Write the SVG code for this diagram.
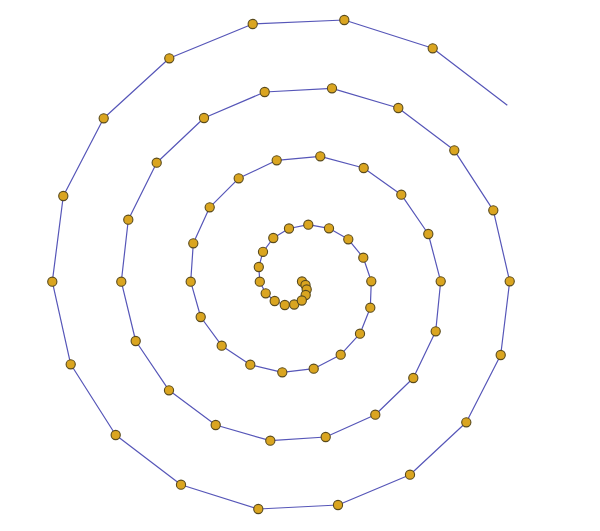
<svg xmlns="http://www.w3.org/2000/svg" width="600" height="531" viewBox="0 0 600 531">
<style>
.edge{fill:none;stroke:#5656b8;stroke-width:1.2;stroke-linejoin:round}
.pt{fill:#daa520;stroke:#594a1c;stroke-width:1.1}
</style>
<rect width="600" height="531" fill="#ffffff"/>
<g id="connectors">
<polyline class="edge" points="507.3,105.3 432.7,48.3 344.3,20 252.7,24 169.3,58.3 103.7,118.3 63.3,196 52.3,281.7 70.7,364.3 115.7,435 181,484.7 258.3,509 338,505 410,474.7 466.3,422.3 500.7,355 509.7,281.3 493.3,210.3 454.3,150.3 398.3,108 332,88.3 264.7,92 204,118 156.7,162.7 128.3,219.7 121.3,281.7 135.7,341 169,390.3 215.7,425 270.3,440.7 325.7,437 375.3,414.7 413.3,378 435.7,331.3 440.7,281.3 428.3,234 401.3,194.7 363.7,168 320.3,156.3 276.7,160.3 238.7,178.3 209.7,207.3 193.3,243.3 190.7,281.7 200.7,317 221.7,345.7 250.3,364.7 282.3,372.3 313.7,368.7 340.7,354.7 360,333.7 370.3,307.7 371.3,281.3 363.3,257.7 348.3,239.3 329,228.3 308.3,224.7 289,228.5 273.3,238 263,251.8 258.8,267 259.8,281.7 265.7,293.3 274.7,301 284.8,305 294.2,304.5 301.8,300.5 305.7,295 306.7,289.5 305.5,285 302,281.5"/>
</g>
<g id="nodes">
<g id="n1"><circle class="pt" cx="432.7" cy="48.3" r="4.6"/></g>
<g id="n2"><circle class="pt" cx="344.3" cy="20" r="4.6"/></g>
<g id="n3"><circle class="pt" cx="252.7" cy="24" r="4.6"/></g>
<g id="n4"><circle class="pt" cx="169.3" cy="58.3" r="4.6"/></g>
<g id="n5"><circle class="pt" cx="103.7" cy="118.3" r="4.6"/></g>
<g id="n6"><circle class="pt" cx="63.3" cy="196" r="4.6"/></g>
<g id="n7"><circle class="pt" cx="52.3" cy="281.7" r="4.6"/></g>
<g id="n8"><circle class="pt" cx="70.7" cy="364.3" r="4.6"/></g>
<g id="n9"><circle class="pt" cx="115.7" cy="435" r="4.6"/></g>
<g id="n10"><circle class="pt" cx="181" cy="484.7" r="4.6"/></g>
<g id="n11"><circle class="pt" cx="258.3" cy="509" r="4.6"/></g>
<g id="n12"><circle class="pt" cx="338" cy="505" r="4.6"/></g>
<g id="n13"><circle class="pt" cx="410" cy="474.7" r="4.6"/></g>
<g id="n14"><circle class="pt" cx="466.3" cy="422.3" r="4.6"/></g>
<g id="n15"><circle class="pt" cx="500.7" cy="355" r="4.6"/></g>
<g id="n16"><circle class="pt" cx="509.7" cy="281.3" r="4.6"/></g>
<g id="n17"><circle class="pt" cx="493.3" cy="210.3" r="4.6"/></g>
<g id="n18"><circle class="pt" cx="454.3" cy="150.3" r="4.6"/></g>
<g id="n19"><circle class="pt" cx="398.3" cy="108" r="4.6"/></g>
<g id="n20"><circle class="pt" cx="332" cy="88.3" r="4.6"/></g>
<g id="n21"><circle class="pt" cx="264.7" cy="92" r="4.6"/></g>
<g id="n22"><circle class="pt" cx="204" cy="118" r="4.6"/></g>
<g id="n23"><circle class="pt" cx="156.7" cy="162.7" r="4.6"/></g>
<g id="n24"><circle class="pt" cx="128.3" cy="219.7" r="4.6"/></g>
<g id="n25"><circle class="pt" cx="121.3" cy="281.7" r="4.6"/></g>
<g id="n26"><circle class="pt" cx="135.7" cy="341" r="4.6"/></g>
<g id="n27"><circle class="pt" cx="169" cy="390.3" r="4.6"/></g>
<g id="n28"><circle class="pt" cx="215.7" cy="425" r="4.6"/></g>
<g id="n29"><circle class="pt" cx="270.3" cy="440.7" r="4.6"/></g>
<g id="n30"><circle class="pt" cx="325.7" cy="437" r="4.6"/></g>
<g id="n31"><circle class="pt" cx="375.3" cy="414.7" r="4.6"/></g>
<g id="n32"><circle class="pt" cx="413.3" cy="378" r="4.6"/></g>
<g id="n33"><circle class="pt" cx="435.7" cy="331.3" r="4.6"/></g>
<g id="n34"><circle class="pt" cx="440.7" cy="281.3" r="4.6"/></g>
<g id="n35"><circle class="pt" cx="428.3" cy="234" r="4.6"/></g>
<g id="n36"><circle class="pt" cx="401.3" cy="194.7" r="4.6"/></g>
<g id="n37"><circle class="pt" cx="363.7" cy="168" r="4.6"/></g>
<g id="n38"><circle class="pt" cx="320.3" cy="156.3" r="4.6"/></g>
<g id="n39"><circle class="pt" cx="276.7" cy="160.3" r="4.6"/></g>
<g id="n40"><circle class="pt" cx="238.7" cy="178.3" r="4.6"/></g>
<g id="n41"><circle class="pt" cx="209.7" cy="207.3" r="4.6"/></g>
<g id="n42"><circle class="pt" cx="193.3" cy="243.3" r="4.6"/></g>
<g id="n43"><circle class="pt" cx="190.7" cy="281.7" r="4.6"/></g>
<g id="n44"><circle class="pt" cx="200.7" cy="317" r="4.6"/></g>
<g id="n45"><circle class="pt" cx="221.7" cy="345.7" r="4.6"/></g>
<g id="n46"><circle class="pt" cx="250.3" cy="364.7" r="4.6"/></g>
<g id="n47"><circle class="pt" cx="282.3" cy="372.3" r="4.6"/></g>
<g id="n48"><circle class="pt" cx="313.7" cy="368.7" r="4.6"/></g>
<g id="n49"><circle class="pt" cx="340.7" cy="354.7" r="4.6"/></g>
<g id="n50"><circle class="pt" cx="360" cy="333.7" r="4.6"/></g>
<g id="n51"><circle class="pt" cx="370.3" cy="307.7" r="4.6"/></g>
<g id="n52"><circle class="pt" cx="371.3" cy="281.3" r="4.6"/></g>
<g id="n53"><circle class="pt" cx="363.3" cy="257.7" r="4.6"/></g>
<g id="n54"><circle class="pt" cx="348.3" cy="239.3" r="4.6"/></g>
<g id="n55"><circle class="pt" cx="329" cy="228.3" r="4.6"/></g>
<g id="n56"><circle class="pt" cx="308.3" cy="224.7" r="4.6"/></g>
<g id="n57"><circle class="pt" cx="289" cy="228.5" r="4.6"/></g>
<g id="n58"><circle class="pt" cx="273.3" cy="238" r="4.6"/></g>
<g id="n59"><circle class="pt" cx="263" cy="251.8" r="4.6"/></g>
<g id="n60"><circle class="pt" cx="258.8" cy="267" r="4.6"/></g>
<g id="n61"><circle class="pt" cx="259.8" cy="281.7" r="4.6"/></g>
<g id="n62"><circle class="pt" cx="265.7" cy="293.3" r="4.6"/></g>
<g id="n63"><circle class="pt" cx="274.7" cy="301" r="4.6"/></g>
<g id="n64"><circle class="pt" cx="284.8" cy="305" r="4.6"/></g>
<g id="n65"><circle class="pt" cx="294.2" cy="304.5" r="4.6"/></g>
<g id="n66"><circle class="pt" cx="302" cy="281.5" r="4.6"/></g>
<g id="n67"><circle class="pt" cx="305.5" cy="285" r="4.6"/></g>
<g id="n68"><circle class="pt" cx="306.7" cy="289.5" r="4.6"/></g>
<g id="n69"><circle class="pt" cx="305.7" cy="295" r="4.6"/></g>
<g id="n70"><circle class="pt" cx="301.8" cy="300.5" r="4.6"/></g>
</g>
</svg>
